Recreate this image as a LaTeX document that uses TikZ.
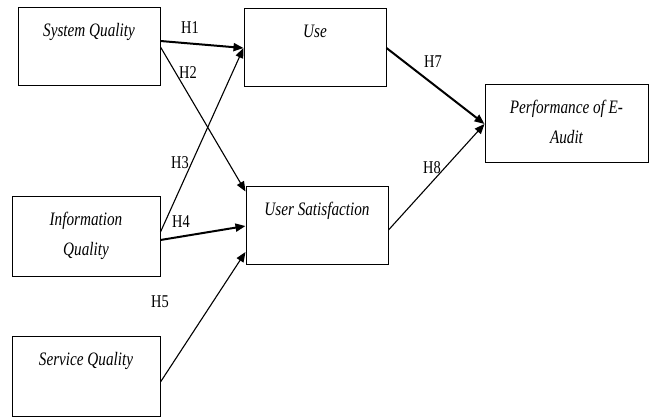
\documentclass[tikz,border=0pt]{standalone}
\usepackage{fontspec}
\setmainfont{Liberation Serif}[FakeStretch=0.8]
\usetikzlibrary{arrows.meta}
\begin{document}
\begin{tikzpicture}[x=1pt,y=-1pt,
  box/.style={draw,line width=1pt,rectangle,inner sep=0pt},
  boxtext/.style={anchor=base,align=center,inner sep=0pt,font=\fontsize{19}{30}\selectfont\itshape},
  hlabel/.style={inner sep=0pt,font=\fontsize{18}{20}\selectfont},
  thin arrow/.style={line width=1.1pt,-{Triangle[length=10pt,width=8pt]}},
  thick arrow/.style={line width=2pt,-{Triangle[length=10pt,width=8pt]}}]
\useasboundingbox (0,0) rectangle (649,417);

% constructs
\node[box,minimum width=142pt,minimum height=78pt] (sq) at (89,47) {};
\node[box,minimum width=142pt,minimum height=78pt] (use) at (315,48) {};
\node[box,minimum width=142pt,minimum height=78pt] (us) at (317,226) {};
\node[box,minimum width=148pt,minimum height=80pt] (iq) at (86,237) {};
\node[box,minimum width=148pt,minimum height=79pt] (svq) at (86,376.5) {};
\node[box,minimum width=163pt,minimum height=78pt] (perf) at (566.5,124) {};

% construct names (base anchor sits on the last line)
\node[boxtext] (sqt) at ([yshift=-29pt]sq.north) {System Quality};
\node[boxtext] (uset) at ([yshift=-29pt]use.north) {Use};
\node[boxtext] (ust) at ([yshift=-29pt]us.north) {User Satisfaction};
\node[boxtext] (iqt) at ([yshift=-59pt]iq.north) {Information\\Quality};
\node[boxtext] (svqt) at ([yshift=-29pt]svq.north) {Service Quality};
\node[boxtext] (perft) at ([yshift=-59pt]perf.north) {Performance of E-\\Audit};

% paths
\draw[thick arrow] ([yshift=6pt]sq.east) -- (use.west);
\draw[thin arrow] (sq.east) -- ([yshift=-5pt]us.north west);
\draw[thin arrow] ([yshift=5pt]iq.east) -- (use.west);
\draw[thick arrow] ([yshift=-3pt]iq.east) -- (us.west);
\draw[thin arrow] ([yshift=-5.5pt]svq.east) -- ([yshift=-26pt]us.west);
\draw[thick arrow] (use.east) -- (perf.west);
\draw[thin arrow] ([yshift=-4pt]us.east) -- (perf.west);

% hypothesis labels
\node[hlabel] (h1) at (190,28) {H1};
\node[hlabel] (h2) at (188,73) {H2};
\node[hlabel] (h3) at (180,163) {H3};
\node[hlabel] (h4) at (181,222) {H4};
\node[hlabel] (h5) at (160,302) {H5};
\node[hlabel] (h7) at (433,62) {H7};
\node[hlabel] (h8) at (432,168) {H8};
\end{tikzpicture}
\end{document}
